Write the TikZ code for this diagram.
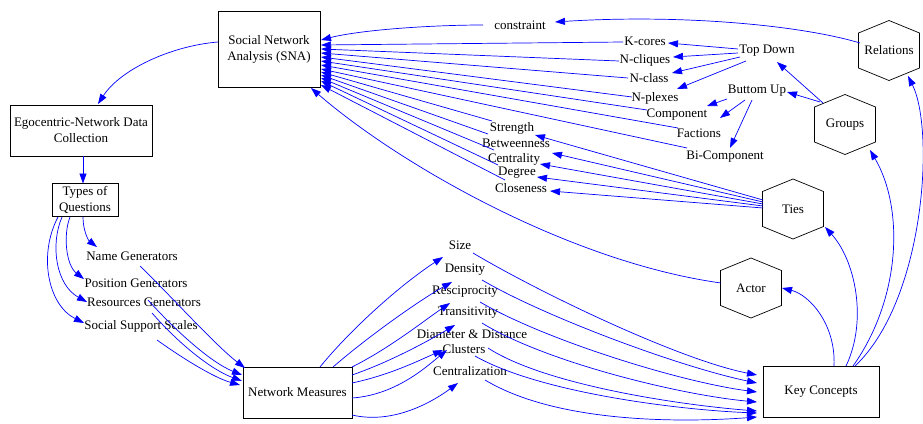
\documentclass[tikz,border=0pt]{standalone}
\usepackage{fontspec}
\setmainfont{Liberation Serif}
\usetikzlibrary{arrows.meta}
\newcommand\hexpath[1]{\draw[hexline] ([shift={(0,-30)}]#1.center) -- ([shift={(30.5,-17.5)}]#1.center) -- ([shift={(30.5,17.5)}]#1.center) -- ([shift={(0,30)}]#1.center) -- ([shift={(-30.5,17.5)}]#1.center) -- ([shift={(-30.5,-17.5)}]#1.center) -- cycle;}
\begin{document}
\begin{tikzpicture}[x=1pt,y=-1pt,
  every node/.style={font=\fontsize{13}{16}\selectfont, inner sep=1pt},
  box/.style={draw=black, line width=0.8pt, inner sep=2pt, align=center},
  lbl/.style={align=center},
  hexnode/.style={minimum width=61pt, minimum height=60pt},
  hexline/.style={draw=black, line width=0.7pt},
  conn/.style={draw=blue, line width=0.7pt, -{Triangle[length=10pt,width=7pt]}},
]
\useasboundingbox (0,0) rectangle (923,423);
% boxes
\node[box, minimum width=102pt, minimum height=76pt] (sna) at (269,49) {Social Network\\Analysis (SNA)};
\node[box, minimum width=142pt, minimum height=51pt] (ego) at (81,130.5) {Egocentric-Network Data\\Collection};
\node[box, minimum width=66pt, minimum height=33pt, inner sep=0pt] (types) at (85,200) {Types of\\Questions};
\node[box, minimum width=109pt, minimum height=51pt] (nm) at (297.5,392.5) {Network Measures};
\node[box, minimum width=116pt, minimum height=51pt] (kc) at (821,391.5) {Key Concepts};
% hexagons
\node[hexnode] (actor) at (751,288) {Actor};
\node[hexnode] (ties) at (793,209) {Ties};
\node[hexnode] (groups) at (845,124.5) {Groups};
\node[hexnode] (relations) at (889,50.5) {Relations};
\hexpath{actor}
\hexpath{ties}
\hexpath{groups}
\hexpath{relations}
% labels
\node[lbl] (ng) at (132,256) {Name Generators};
\node[lbl] (pg) at (136,283) {Position Generators};
\node[lbl] (rg) at (144,302) {Resources Generators};
\node[lbl] (sss) at (141,326) {Social Support Scales};
\node[lbl] (size) at (460,245) {Size};
\node[lbl] (density) at (465,270) {Density};
\node[lbl] (resc) at (465,292) {Resciprocity};
\node[lbl] (trans) at (468,313) {Transitivity};
\node[lbl] (diam) at (472,334) {Diameter \& Distance};
\node[lbl] (clus) at (464,349) {Clusters};
\node[lbl] (cent) at (470,371) {Centralization};
\node[lbl] (constraint) at (520,25) {constraint};
\node[lbl] (kcores) at (645,41) {K-cores};
\node[lbl] (ncliques) at (645,60) {N-cliques};
\node[lbl] (nclass) at (649,78) {N-class};
\node[lbl] (nplexes) at (655,98) {N-plexes};
\node[lbl] (topdown) at (767,51) {Top Down};
\node[lbl] (bottomup) at (757,91) {Buttom Up};
\node[lbl] (component) at (677,115) {Component};
\node[lbl] (factions) at (699,133) {Factions};
\node[lbl] (bicomp) at (725,157) {Bi-Component};
\node[lbl] (strength) at (512,128) {Strength};
\node[lbl] (betw) at (516,143) {Betweenness};
\node[lbl] (centr) at (514,159) {Centrality};
\node[lbl] (degree) at (517,173) {Degree};
\node[lbl] (closeness) at (521,188) {Closeness};
% SNA -> Ego -> Types
\draw[conn] ([shift={(-51,-7)}]sna.center) .. controls (170,46) and (120,70) .. ([shift={(17,-26.5)}]ego.center);
\draw[conn] ([shift={(2,25.5)}]ego.center) -- ([shift={(-2,-16.5)}]types.center);
% Types -> generators
\draw[conn] ([shift={(-2,17)}]types.center) .. controls (83,230) and (88,240) .. ([shift={(-35,-9)}]ng.center);
\draw[conn] ([shift={(-15,17)}]types.center) .. controls (63,235) and (66,265) .. ([shift={(-52,-4)}]pg.center);
\draw[conn] ([shift={(-23,17)}]types.center) .. controls (50,245) and (56,285) .. ([shift={(-57,0)}]rg.center);
\draw[conn] ([shift={(-27,17)}]types.center) .. controls (38,255) and (48,305) .. ([shift={(-57,-3)}]sss.center);
% generators -> NM
\draw[conn] ([shift={(8,10)}]ng.center) .. controls (170,295) and (215,345) .. ([shift={(-52.5,-24.5)}]nm.center);
\draw[conn] ([shift={(12,17)}]pg.center) .. controls (175,330) and (210,362) .. ([shift={(-55.5,-17.5)}]nm.center);
\draw[conn] ([shift={(8,11)}]rg.center) .. controls (180,345) and (212,370) .. ([shift={(-55.5,-11.5)}]nm.center);
\draw[conn] ([shift={(16,14)}]sss.center) .. controls (185,360) and (215,378) .. ([shift={(-57.5,-7.5)}]nm.center);
% NM -> measures
\draw[conn] ([shift={(22.5,-25.5)}]nm.center) .. controls (350,330) and (400,285) .. ([shift={(-17,12)}]size.center);
\draw[conn] ([shift={(35.5,-25.5)}]nm.center) .. controls (370,335) and (420,300) .. ([shift={(-13,12)}]density.center);
\draw[conn] ([shift={(54.5,-25.5)}]nm.center) .. controls (390,348) and (425,320) .. ([shift={(-15,11)}]resc.center);
\draw[conn] ([shift={(54.5,-17.5)}]nm.center) .. controls (390,362) and (430,340) .. ([shift={(-13,12)}]trans.center);
\draw[conn] ([shift={(54.5,-9.5)}]nm.center) .. controls (390,375) and (420,360) .. ([shift={(-29,16)}]diam.center);
\draw[conn] ([shift={(54.5,5.5)}]nm.center) .. controls (395,395) and (425,368) .. ([shift={(-17,1)}]clus.center);
\draw[conn] ([shift={(54.5,22.5)}]nm.center) .. controls (395,425) and (435,400) .. ([shift={(-12,12)}]cent.center);
% measures -> KC
\draw[conn] ([shift={(13,8)}]size.center) .. controls (540,293) and (680,360) .. ([shift={(-64,-16.5)}]kc.center);
\draw[conn] ([shift={(17,10)}]density.center) .. controls (545,317) and (680,367) .. ([shift={(-64,-8.5)}]kc.center);
\draw[conn] ([shift={(15,10)}]resc.center) .. controls (545,340) and (680,382) .. ([shift={(-64,0.5)}]kc.center);
\draw[conn] ([shift={(14,10)}]trans.center) .. controls (545,362) and (680,395) .. ([shift={(-64,10.5)}]kc.center);
\draw[conn] ([shift={(16,14)}]diam.center) .. controls (545,385) and (680,405) .. ([shift={(-64,19.5)}]kc.center);
\draw[conn] ([shift={(11,7)}]clus.center) .. controls (540,393) and (680,410) .. ([shift={(-64,21.5)}]kc.center);
\draw[conn] ([shift={(15,9)}]cent.center) .. controls (560,425) and (690,422) .. ([shift={(-64,25.5)}]kc.center);
% KC -> concepts
\draw[conn] ([shift={(13,-25.5)}]kc.center) .. controls (836,325) and (810,295) .. ([shift={(31,0)}]actor.center);
\draw[conn] ([shift={(25,-25.5)}]kc.center) .. controls (868,320) and (855,260) .. ([shift={(32,18)}]ties.center);
\draw[conn] ([shift={(32,-25.5)}]kc.center) .. controls (900,300) and (905,210) .. ([shift={(25,25.5)}]groups.center);
\draw[conn] ([shift={(34,-25.5)}]kc.center) .. controls (925,300) and (935,130) .. ([shift={(19,25.5)}]relations.center);
% Actor -> SNA
\draw[conn] ([shift={(-30,-5)}]actor.center) .. controls (570,262) and (400,165) .. ([shift={(42,39)}]sna.center);
% Ties -> centrality labels
\draw[conn] ([shift={(-30,-9)}]ties.center) -- ([shift={(23,7)}]strength.center);
\draw[conn] ([shift={(-30,-7)}]ties.center) -- ([shift={(36,10)}]betw.center);
\draw[conn] ([shift={(-30,-5)}]ties.center) -- ([shift={(26,5)}]centr.center);
\draw[conn] ([shift={(-30,-3)}]ties.center) -- ([shift={(20,4)}]degree.center);
\draw[conn] ([shift={(-30,-1)}]ties.center) -- ([shift={(29,3)}]closeness.center);
% Groups -> Top Down / Buttom Up
\draw[conn] ([shift={(-22,-21.5)}]groups.center) -- ([shift={(10,11)}]topdown.center);
\draw[conn] ([shift={(-25,-22.5)}]groups.center) -- ([shift={(30,1)}]bottomup.center);
\draw[conn] ([shift={(-29,-2)}]topdown.center) -- ([shift={(23,2)}]kcores.center);
\draw[conn] ([shift={(-29,2)}]topdown.center) -- ([shift={(28,-3)}]ncliques.center);
\draw[conn] ([shift={(-27,6)}]topdown.center) -- ([shift={(23,-5)}]nclass.center);
\draw[conn] ([shift={(-21,10)}]topdown.center) -- ([shift={(22,-9)}]nplexes.center);
\draw[conn] ([shift={(-30,8)}]bottomup.center) -- ([shift={(30,-9)}]component.center);
\draw[conn] ([shift={(-12,9)}]bottomup.center) -- ([shift={(21,-15)}]factions.center);
\draw[conn] ([shift={(-5,9)}]bottomup.center) -- ([shift={(5,-9)}]bicomp.center);
% Relations -> constraint -> SNA
\draw[conn] ([shift={(-29,-7.5)}]relations.center) .. controls (800,25) and (680,14) .. ([shift={(35,-3)}]constraint.center);
\draw[conn] ([shift={(-37,0)}]constraint.center) .. controls (430,25) and (360,30) .. ([shift={(52,-9)}]sna.center);
% labels -> SNA
\draw[conn] ([shift={(-22,1)}]kcores.center) -- ([shift={(52,-4)}]sna.center);
\draw[conn] ([shift={(-26,1)}]ncliques.center) -- ([shift={(52,0)}]sna.center);
\draw[conn] ([shift={(-21,0)}]nclass.center) -- ([shift={(52,4)}]sna.center);
\draw[conn] ([shift={(-23,-1)}]nplexes.center) -- ([shift={(52,8)}]sna.center);
\draw[conn] ([shift={(-30,-5)}]component.center) -- ([shift={(52,12)}]sna.center);
\draw[conn] ([shift={(-21,-5)}]factions.center) -- ([shift={(52,16)}]sna.center);
\draw[conn] ([shift={(-38,-9)}]bicomp.center) -- ([shift={(52,20)}]sna.center);
\draw[conn] ([shift={(-20,-7)}]strength.center) -- ([shift={(52,23)}]sna.center);
\draw[conn] ([shift={(-28,-9)}]betw.center) -- ([shift={(52,26)}]sna.center);
\draw[conn] ([shift={(-20,-9)}]centr.center) -- ([shift={(52,29)}]sna.center);
\draw[conn] ([shift={(-19,-8)}]degree.center) -- ([shift={(52,32)}]sna.center);
\draw[conn] ([shift={(-16,-8)}]closeness.center) -- ([shift={(52,36)}]sna.center);
\end{tikzpicture}
\end{document}
